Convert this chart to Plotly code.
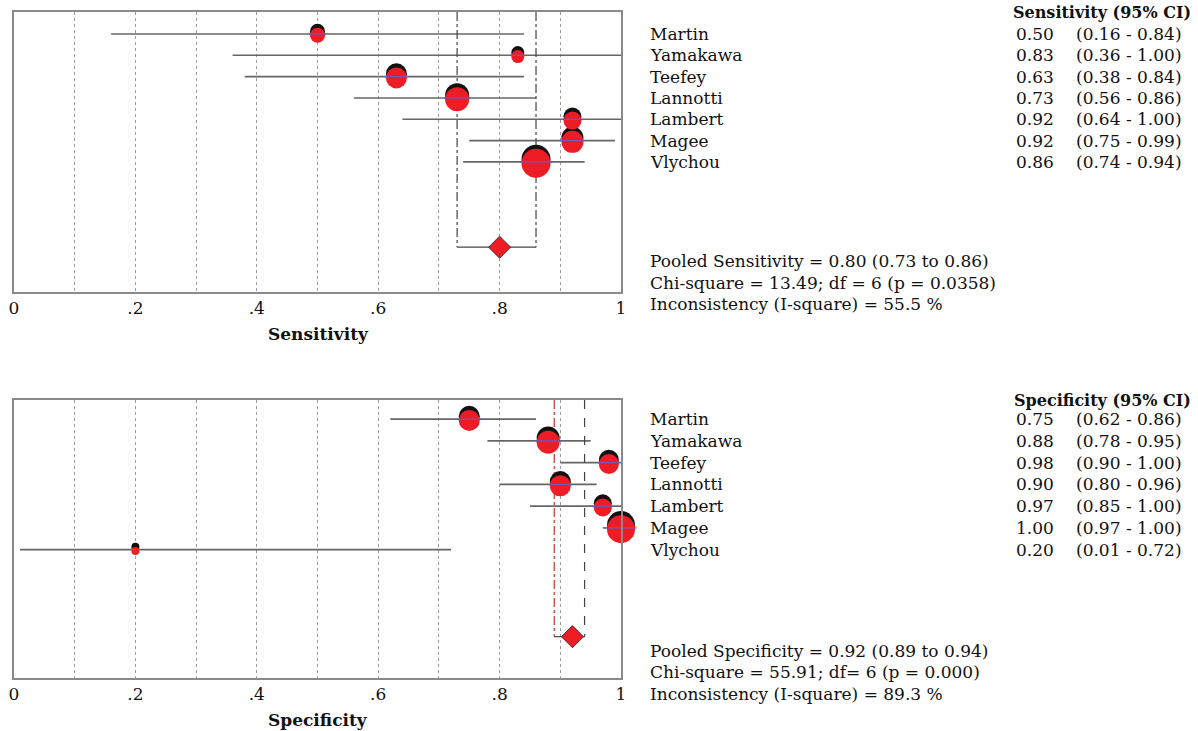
import plotly.graph_objects as go

# ---------------- data ----------------
studies = ["Martin", "Yamakawa", "Teefey", "Lannotti", "Lambert", "Magee", "Vlychou"]

sens = [0.50, 0.83, 0.63, 0.73, 0.92, 0.92, 0.86]
sens_lo = [0.16, 0.36, 0.38, 0.56, 0.64, 0.75, 0.74]
sens_hi = [0.84, 1.00, 0.84, 0.86, 1.00, 0.99, 0.94]
sens_pooled = [0.80, 0.73, 0.86]
sens_stats = ["Pooled Sensitivity = 0.80 (0.73 to 0.86)",
              "Chi-square = 13.49; df = 6 (p = 0.0358)",
              "Inconsistency (I-square) = 55.5 %"]

spec = [0.75, 0.88, 0.98, 0.90, 0.97, 1.00, 0.20]
spec_lo = [0.62, 0.78, 0.90, 0.80, 0.85, 0.97, 0.01]
spec_hi = [0.86, 0.95, 1.00, 0.96, 1.00, 1.00, 0.72]
spec_pooled = [0.92, 0.89, 0.94]
spec_stats = ["Pooled Specificity = 0.92 (0.89 to 0.94)",
              "Chi-square = 55.91; df= 6 (p = 0.000)",
              "Inconsistency (I-square) = 89.3 %"]

tick_vals = [0, 0.1, 0.2, 0.3, 0.4, 0.5, 0.6, 0.7, 0.8, 0.9, 1.0]
tick_text = ["0", "", ".2", "", ".4", "", ".6", "", ".8", "", "1"]

# ---------------- styles ----------------
sens_sizes = [15, 13, 21, 24, 18, 22, 29]
spec_sizes = [21, 23, 20, 21, 18, 28, 8]
RED = "#ee1c24"
FONT = "DejaVu Serif"
FS = 17
W, H = 1198, 731

fig = go.Figure()


def px_y(p):
    return 1 - p / H


def txt(x_px, y, text, xanchor="left", yref="paper", bold=False, size=FS):
    fig.add_annotation(x=x_px / W, y=y, xref="paper", yref=yref,
                       text=("<b>%s</b>" % text) if bold else text,
                       showarrow=False, xanchor=xanchor, yanchor="middle",
                       font=dict(family=FONT, size=size, color="#111"))


def panel(xa, ya, vals, lo, hi, sizes, pooled, stats, header, title,
          box_top, box_bot, yrange, lo_color, lo_dash, hi_color, hi_dash):
    rows = list(range(len(vals)))
    prow = 10
    xref = "x" if xa == "xaxis" else "x2"
    yref = "y" if ya == "yaxis" else "y2"

    def row_px(r):
        return box_top + (r - yrange[1]) / (yrange[0] - yrange[1]) * (box_bot - box_top)

    # CI lines
    cx, cy = [], []
    for r, a, b in zip(rows, lo, hi):
        cx += [a, b, None]
        cy += [r, r, None]
    fig.add_trace(go.Scatter(x=cx, y=cy, mode="lines", xaxis=xref, yaxis=yref,
                             line=dict(color="#666666", width=1.6),
                             hoverinfo="skip", showlegend=False))
    # pooled bracket
    top = yrange[1]
    fig.add_trace(go.Scatter(x=[pooled[1], pooled[1]], y=[top, prow], mode="lines",
                             xaxis=xref, yaxis=yref,
                             line=dict(color=lo_color, width=1.2, dash=lo_dash),
                             hoverinfo="skip", showlegend=False))
    fig.add_trace(go.Scatter(x=[pooled[2], pooled[2]], y=[top, prow], mode="lines",
                             xaxis=xref, yaxis=yref,
                             line=dict(color=hi_color, width=1.2, dash=hi_dash),
                             hoverinfo="skip", showlegend=False))
    fig.add_trace(go.Scatter(x=[pooled[1], pooled[2]], y=[prow, prow], mode="lines",
                             xaxis=xref, yaxis=yref,
                             line=dict(color="#444", width=1.2),
                             hoverinfo="skip", showlegend=False))
    # shadow (black) markers
    fig.add_trace(go.Scatter(x=vals, y=[r - 0.13 for r in rows], mode="markers",
                             xaxis=xref, yaxis=yref, cliponaxis=False,
                             marker=dict(size=sizes, color="#111", symbol="circle",
                                         opacity=1, line=dict(width=0)),
                             hoverinfo="skip", showlegend=False))
    fig.add_trace(go.Scatter(x=vals, y=[r + 0.06 for r in rows], mode="markers",
                             xaxis=xref, yaxis=yref, cliponaxis=False,
                             marker=dict(size=sizes, color=RED, symbol="circle",
                                         opacity=1, line=dict(width=0)),
                             showlegend=False))
    fig.add_trace(go.Scatter(x=vals, y=rows, mode="markers",
                             xaxis=xref, yaxis=yref, cliponaxis=False,
                             marker=dict(size=[s * 0.8 for s in sizes], symbol="line-ew",
                                         opacity=1,
                                         line=dict(color="#6a5acd", width=1.2)),
                             hoverinfo="skip", showlegend=False))
    # pooled diamond
    fig.add_trace(go.Scatter(x=[pooled[0]], y=[prow], mode="markers",
                             xaxis=xref, yaxis=yref, cliponaxis=False,
                             marker=dict(size=17, color=RED, symbol="diamond", opacity=1,
                                         line=dict(color="#222", width=0.8)),
                             showlegend=False))

    dom_y = [px_y(box_bot), px_y(box_top)]
    fig.layout[xa] = dict(domain=[14 / W, 621 / W], range=[0, 1], anchor=yref,
                          tickvals=tick_vals, ticktext=tick_text, automargin=False,
                          showgrid=True, gridcolor="#9a9aa6", griddash="dot", gridwidth=1,
                          showline=True, linecolor="#8a8a8a", linewidth=2, mirror=True,
                          zeroline=False, ticks="", ticklabelstandoff=0,
                          tickfont=dict(family=FONT, size=FS, color="#111"))
    fig.layout[ya] = dict(domain=dom_y, range=yrange, anchor=xref, automargin=False,
                          showgrid=False, zeroline=False, showticklabels=False,
                          showline=True, linecolor="#8a8a8a", linewidth=2, mirror=True)

    # axis title
    txt(318, px_y(box_bot + 42), title, xanchor="center", bold=True)
    # header
    txt(1193, px_y(box_top), header, xanchor="right", bold=True, size=16)
    # study labels & values
    for r, s, v, a, b in zip(rows, studies, vals, lo, hi):
        txt(648, r, s, yref=yref)
        txt(1056, r, "%.2f" % v, xanchor="right", yref=yref)
        txt(1184, r, "(%.2f - %.2f)" % (a, b), xanchor="right", yref=yref)
    # stats lines
    base = row_px(prow) + 14
    for i, line in enumerate(stats):
        txt(648, px_y(base + 21.5 * i), line)


panel("xaxis", "yaxis", sens, sens_lo, sens_hi, sens_sizes, sens_pooled, sens_stats,
      "Sensitivity (95% CI)", "Sensitivity", 12, 292, [12.1, -1.03],
      "#444", "dashdot", "#444", "dashdot")
panel("xaxis2", "yaxis2", spec, spec_lo, spec_hi, spec_sizes, spec_pooled, spec_stats,
      "Specificity (95% CI)", "Specificity", 400, 678, [11.9, -0.88],
      "#d03030", "dashdot", "#444", "dash")

fig.update_layout(width=W, height=H, margin=dict(l=0, r=0, t=0, b=0),
                  paper_bgcolor="white", plot_bgcolor="white", showlegend=False)

fig.write_html("out.html", config={"displayModeBar": False},
               post_script="document.body.style.margin='0';")
